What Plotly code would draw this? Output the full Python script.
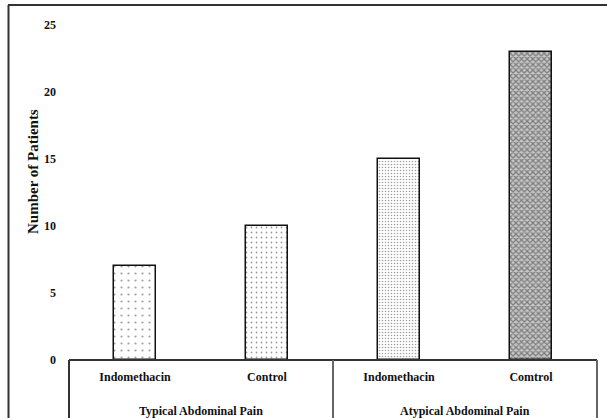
import plotly.graph_objects as go

categories = ["Indomethacin", "Control", "Indomethacin", "Comtrol"]
groups = ["Typical Abdominal Pain", "Atypical Abdominal Pain"]
patients = [7, 10, 15, 23]
y_ticks = [0, 5, 10, 15, 20, 25]

W, H = 607, 418
L, R, T, B = 69, 597, 25, 360  # plot area in px

def px_x(px):
    return (px - L) / (R - L)

def px_y(py):
    return (B - py) / (B - T)

patterns = [
    dict(shape=".", size=7, solidity=0.08, fgcolor="#444", bgcolor="white"),
    dict(shape=".", size=5, solidity=0.1, fgcolor="#333", bgcolor="white"),
    dict(shape=".", size=3, solidity=0.22, fgcolor="#444", bgcolor="white"),
    dict(shape="x", size=4, solidity=0.55, fgcolor="#333", bgcolor="#c8c8c8"),
]

fig = go.Figure()
for i, (c, v) in enumerate(zip(categories, patients)):
    fig.add_trace(go.Bar(
        x=[i], y=[v], width=0.32,
        marker=dict(color="white", pattern=patterns[i],
                    line=dict(color="#111", width=1.5)),
        showlegend=False, hoverinfo="skip",
    ))

bold = dict(family="Liberation Serif", size=12, color="#111", weight=700)

fig.update_layout(
    width=W, height=H,
    margin=dict(l=L, r=W - R, t=T, b=H - B, autoexpand=False),
    plot_bgcolor="white", paper_bgcolor="white",
    bargap=0,
    xaxis=dict(
        range=[-0.5, 3.5], tickvals=list(range(len(categories))),
        ticktext=categories, tickfont=bold, showgrid=False, zeroline=False,
        showline=False, ticks="", ticklabelstandoff=8, fixedrange=True,
    ),
    yaxis=dict(
        range=[0, 25], tickvals=y_ticks, tickfont=bold, showgrid=False,
        zeroline=False, showline=False, ticks="", ticklabelstandoff=12,
        fixedrange=True,
    ),
)

line = dict(color="#333", width=2)
shapes = [
    # x axis line and group dividers
    dict(type="line", xref="paper", yref="paper", x0=0, x1=1, y0=0, y1=0, line=line),
    dict(type="line", xref="paper", yref="paper", x0=0, x1=0, y0=0, y1=px_y(420), line=line),
    dict(type="line", xref="paper", yref="paper", x0=0.5, x1=0.5, y0=0, y1=px_y(420), line=dict(color="#666", width=2)),
    dict(type="line", xref="paper", yref="paper", x0=1, x1=1, y0=0, y1=px_y(420), line=dict(color="#666", width=2)),
    # outer frame
    dict(type="line", xref="paper", yref="paper", x0=px_x(8.5), x1=px_x(8.5), y0=px_y(5), y1=px_y(420), line=line),
    dict(type="line", xref="paper", yref="paper", x0=px_x(8), x1=px_x(610), y0=px_y(5), y1=px_y(5), line=line),
]
fig.update_layout(shapes=shapes)

annotations = [
    dict(text="Number of Patients", textangle=-90, xref="paper", yref="paper",
         x=px_x(33), y=px_y(172), xanchor="center", yanchor="middle", showarrow=False,
         font=dict(family="Liberation Serif", size=15, color="#111", weight=700)),
]
for gi, g in enumerate(groups):
    annotations.append(dict(text=g, xref="x", yref="paper", x=gi * 2 + 0.5,
                            y=px_y(411), xanchor="center", yanchor="middle",
                            showarrow=False, font=bold))
fig.update_layout(annotations=annotations)

fig.write_html(
    "out.html",
    config={"displayModeBar": False},
    post_script="document.body.style.margin='0';document.body.style.overflow='hidden';",
)
